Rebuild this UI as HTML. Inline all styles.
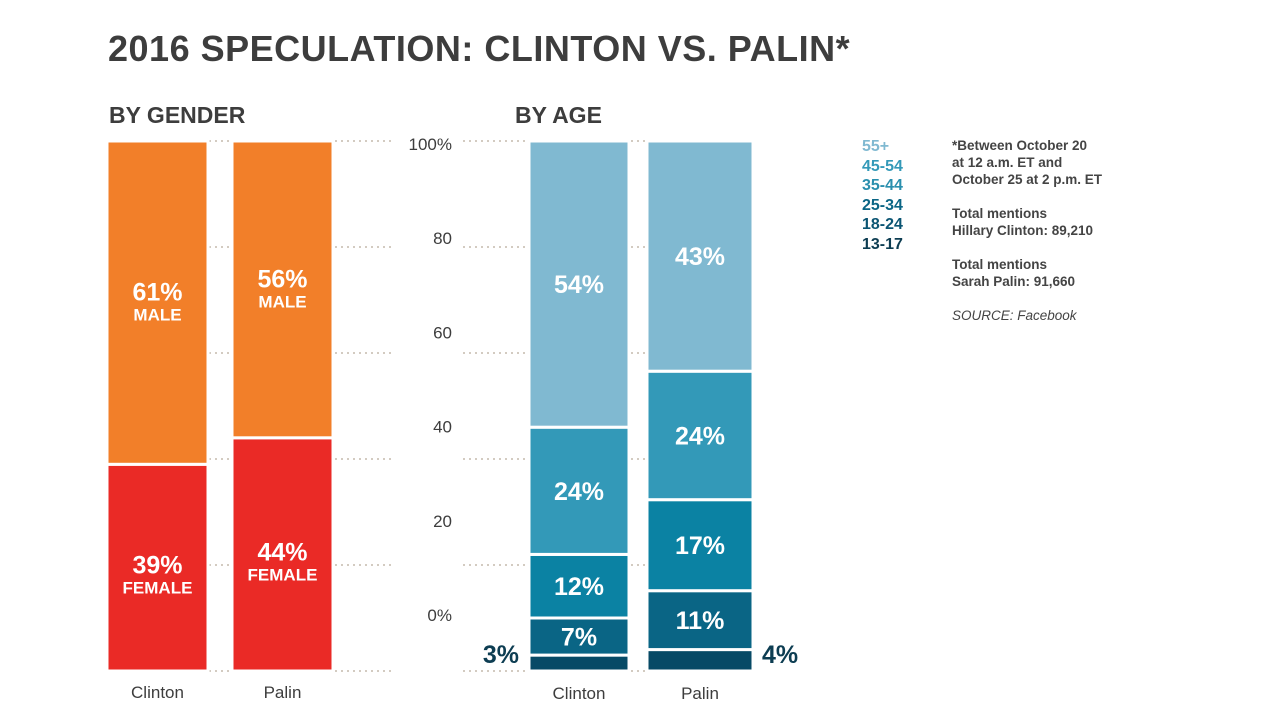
<!DOCTYPE html>
<html><head><meta charset="utf-8"><style>
body{margin:0;width:1280px;height:720px;background:#fff;font-family:"Liberation Sans",sans-serif;overflow:hidden;position:relative}
.t{position:absolute;white-space:nowrap}
</style></head><body>
<div class="t" style="left:108px;top:28px;font-size:36px;font-weight:bold;color:#3d3d3d;letter-spacing:0.5px">2016 SPECULATION: CLINTON VS. PALIN*</div>
<div class="t" style="left:109px;top:102px;font-size:23px;font-weight:bold;color:#3d3d3d">BY GENDER</div>
<div class="t" style="left:515px;top:102px;font-size:23px;font-weight:bold;color:#3d3d3d">BY AGE</div>
<div class="t" style="left:862px;top:137px;font-size:16px;font-weight:bold;line-height:19.5px">
<div style="color:#80b9d1">55+</div>
<div style="color:#3399b8">45-54</div>
<div style="color:#2a8fae">35-44</div>
<div style="color:#0a6585">25-34</div>
<div style="color:#0b5573">18-24</div>
<div style="color:#0d3d52">13-17</div>
</div>
<div class="t" style="left:952px;top:137px;font-size:13.5px;font-weight:bold;color:#444;line-height:17px">
<div>*Between October 20</div><div>at 12 a.m. ET and</div><div>October 25 at 2 p.m. ET</div>
<div style="margin-top:17px">Total mentions</div><div>Hillary Clinton: 89,210</div>
<div style="margin-top:17px">Total mentions</div><div>Sarah Palin: 91,660</div>
<div style="margin-top:17px;font-style:italic;font-weight:normal">SOURCE: Facebook</div>
</div>
<svg id="c" width="1280" height="720" style="position:absolute;left:0;top:0"></svg>
<script>
const genderCats=["Clinton","Palin"];
const female=[39,44];
const male=[61,56];
const ageCats=["Clinton","Palin"];
const age1317=[3,4];
const age1824=[7,11];
const age2534=[12,17];
const age3544=[24,24];
const age4554=[54,43];
const yTicks=["100%","80","60","40","20","0%"];
const ageColors=["#074a66","#0a6585","#0b82a3","#3399b8","#80b9d1"];
const svg=document.getElementById('c');
const NS='http://www.w3.org/2000/svg';
const top0=141,bot0=671,scale=(bot0-top0)/100;
function y(v){return bot0-v*scale;}
function mk(tag,attrs,parent){const e=document.createElementNS(NS,tag);for(const k in attrs)e.setAttribute(k,attrs[k]);(parent||svg).appendChild(e);return e;}
for(let i=0;i<6;i++){
  const gy=y(100-i*20);
  const g1=mk('line',{x1:107,x2:395,y1:gy,y2:gy,stroke:'#d3cbc1','stroke-width':2,'stroke-dasharray':'2 4'});
  
  
  const g2=mk('line',{x1:463,x2:647,y1:gy,y2:gy,stroke:'#d3cbc1','stroke-width':2,'stroke-dasharray':'2 4'});
  
  
  const lab=mk('text',{x:452,y:150+i*94.2,'text-anchor':'end','font-size':17,fill:'#3d3d3d','font-family':'Liberation Sans'});
  lab.textContent=yTicks[i];
  
  
}
function seg(x,w,lo,hi,color,name){
  const r=mk('rect',{x:x,y:y(hi),width:w,height:y(lo)-y(hi),fill:color,stroke:'#fff','stroke-width':3});
  
  
  return r;
}
function txt(x,yy,s,size,color,name,anchor,weight){
  const t=mk('text',{x:x,y:yy,'text-anchor':anchor||'middle','font-size':size,'font-weight':weight||'bold',fill:color,'font-family':'Liberation Sans'});
  t.textContent=s;
  
  
  return t;
}
const gx=[107,232],gw=101;
genderCats.forEach((c,i)=>{
  seg(gx[i],gw,0,female[i],'#ea2a26','bar-female-'+c.toLowerCase());
  seg(gx[i],gw,female[i],100,'#f27f29','bar-male-'+c.toLowerCase());
  const cx=gx[i]+gw/2;
  const fm=y(female[i]/2), mm=y(female[i]+male[i]/2);
  txt(cx,fm+6,female[i]+'%',25,'#fff','value-female');
  txt(cx,fm+26,'FEMALE',17,'#fff','label-female');
  txt(cx,mm-2,male[i]+'%',25,'#fff','value-male');
  txt(cx,mm+18,'MALE',17,'#fff','label-male');
  txt(cx,698,c,17,'#3d3d3d','x-label-gender','middle','normal');
});
const ax=[529,647],aw=[100,106];
const series=[age1317,age1824,age2534,age3544,age4554];
const allNames=['13-17','18-24','25-34','35-44','45-54','55+'];
ageCats.forEach((c,i)=>{
  let acc=0;
  const vals=series.map(s=>s[i]);
  vals.push(100-vals.reduce((a,b)=>a+b,0));
  const tot=vals.reduce((a,b)=>a+b,0);
  const sc=100/tot;
  const cols=["#074a66","#0a6585","#0b82a3","#3399b8","#80b9d1"];
  // segments: 13-17,18-24,25-34,35-44,45-54 values; top remainder is 55+
  const segVals=[age1317[i],age1824[i],age2534[i],age3544[i],age4554[i]];
  const segCols=["#074a66","#0a6585","#0b82a3","#3399b8","#80b9d1"];
  let a=0;
  const total=segVals.reduce((p,q)=>p+q,0);
  const s2=100/total;
  segVals.forEach((v,k)=>{
    const lo=a*s2, hi=(a+v)*s2;
    seg(ax[i],aw[i],lo,hi,segCols[k],'bar-age-'+allNames[k]+'-'+c.toLowerCase());
    if(k>0) txt(ax[i]+aw[i]/2,y((lo+hi)/2)+9,v+'%',25,'#fff','value-age-'+allNames[k]);
    a+=v;
  });
  txt(ax[i]+aw[i]/2,699,c,17,'#3d3d3d','x-label-age','middle','normal');
});
txt(519,663,age1317[0]+'%',25,'#0d3d52','value-age-13-17-clinton','end');
txt(762,663,age1317[1]+'%',25,'#0d3d52','value-age-13-17-palin','start');
</script>
</body></html>
